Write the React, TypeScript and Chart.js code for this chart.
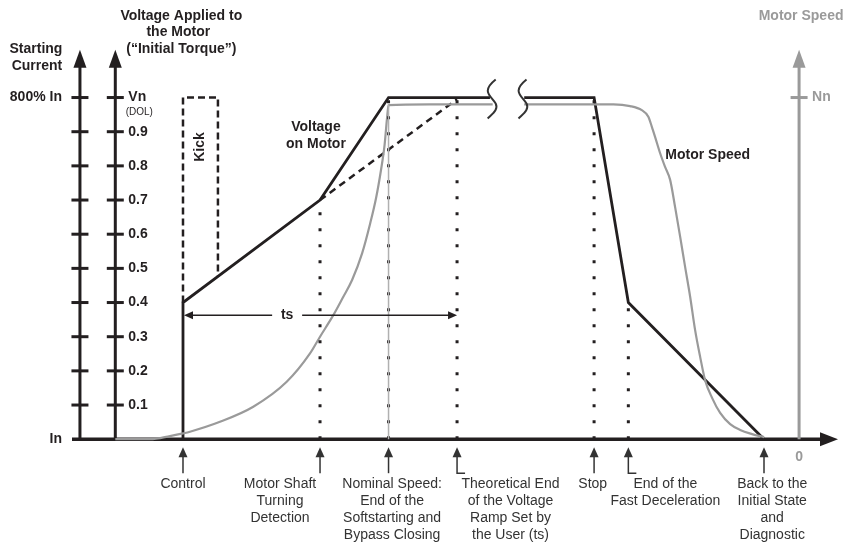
import React, { useEffect, useRef } from "react";
import { Chart, registerables } from "chart.js";

Chart.register(...registerables);

// ---- data (time in arbitrary units, voltage/speed as fraction of Vn / Nn) ----
const voltageRampT = [0, 0, 10, 15, 22.4];
const voltageRampV = [0, 0.4, 0.7, 1, 1];
const voltageStopT = [24.9, 30, 32.5, 42.4];
const voltageStopV = [1, 1, 0.4, 0];
const theoreticalRampT = [10, 20];
const theoreticalRampV = [0.7, 0.995];
const kickT = [0, 0, 2.55, 2.55];
const kickV = [0.4, 1, 1, 0.477];

const speedStartT = [-4.94, -2.41, -0.95, 0, 0.51, 2.7, 5.13, 7.57, 9.27, 10, 10.97, 11.7, 12.34, 13.07, 13.65, 14.09, 14.45, 14.71, 14.89, 15.0, 18, 22.6];
const speedStartV = [0, 0, 0.009, 0.017, 0.022, 0.051, 0.095, 0.168, 0.251, 0.3, 0.363, 0.417, 0.466, 0.544, 0.63, 0.706, 0.788, 0.861, 0.94, 0.978, 0.98, 0.98];
const speedStopT = [24.9, 28, 31.41, 32.63, 33.48, 33.96, 34.21, 34.45, 34.82, 35.18, 35.55, 35.91, 36.28, 36.64, 37.01, 37.37, 37.74, 38.1, 38.61, 39.2, 39.93, 40.66, 41.53, 42.41];
const speedStopV = [0.98, 0.98, 0.98, 0.975, 0.963, 0.944, 0.915, 0.885, 0.837, 0.797, 0.759, 0.68, 0.593, 0.505, 0.417, 0.32, 0.241, 0.173, 0.121, 0.077, 0.044, 0.027, 0.015, 0.006];

const nominalLineT = [15, 15];
const nominalLineV = [0, 0.98];

const markerT = [10, 15, 20, 30, 32.5];
const markerTop = [0.7, 1, 0.995, 1, 0.4];

const tickValues = [0.1, 0.2, 0.3, 0.4, 0.5, 0.6, 0.7, 0.8, 0.9];
const tickLabels = ["0.1", "0.2", "0.3", "0.4", "0.5", "0.6", "0.7", "0.8", "0.9"];

const eventT = [0, 10, 15, 20, 30, 32.5, 42.4];
const eventLabelT = [0, 7.08, 15.26, 23.9, 29.9, 35.2, 43.0];
const eventHook = [false, false, false, true, false, true, false];
const eventLabels = [
  ["Control"],
  ["Motor Shaft", "Turning", "Detection"],
  ["Nominal Speed:", "End of the", "Softstarting and", "Bypass Closing"],
  ["Theoretical End", "of the Voltage", "Ramp Set by", "the User (ts)"],
  ["Stop"],
  ["End of the", "Fast Deceleration"],
  ["Back to the", "Initial State", "and", "Diagnostic"],
];

const X_MIN = -8.1;
const X_MAX = 47.8;
const Y_MAX = 1.14;
const AXIS_CURRENT_T = -7.52;
const AXIS_VOLTAGE_T = -4.94;
const AXIS_SPEED_T = 44.96;
const BREAK_T = [22.6, 24.85];
const TS_V = 0.363;
const TS_TEXT_T = 7.6;

const BLACK = "#231f20";
const GRAY = "#9a9a9a";
const TEXT_GRAY = "#333333";
const FONT = '"Liberation Sans", Arial, sans-serif';

const pts = (t: number[], v: number[]) => t.map((x, i) => ({ x, y: v[i] }));

const decorPlugin = {
  id: "decor",
  beforeDatasetsDraw(chart: any) {
    const ctx = chart.ctx as CanvasRenderingContext2D;
    const xs = chart.scales.x;
    const ys = chart.scales.y;
    const px = (t: number) => xs.getPixelForValue(t);
    const py = (v: number) => ys.getPixelForValue(v);
    ctx.save();
    ctx.lineCap = "butt";
    // x axis
    const y0 = py(0);
    ctx.strokeStyle = BLACK;
    ctx.fillStyle = BLACK;
    ctx.lineWidth = 3.5;
    ctx.beginPath();
    ctx.moveTo(px(X_MIN), y0);
    ctx.lineTo(px(X_MAX) - 12, y0);
    ctx.stroke();
    ctx.beginPath();
    ctx.moveTo(px(X_MAX), y0);
    ctx.lineTo(px(X_MAX) - 18, y0 - 7);
    ctx.lineTo(px(X_MAX) - 18, y0 + 7);
    ctx.closePath();
    ctx.fill();

    const drawVAxis = (t: number, color: string, ticks: number[]) => {
      const x = px(t);
      ctx.strokeStyle = color;
      ctx.fillStyle = color;
      ctx.lineWidth = 3;
      ctx.beginPath();
      ctx.moveTo(x, y0);
      ctx.lineTo(x, py(Y_MAX) + 12);
      ctx.stroke();
      ctx.beginPath();
      ctx.moveTo(x, py(Y_MAX));
      ctx.lineTo(x - 6.5, py(Y_MAX) + 18);
      ctx.lineTo(x + 6.5, py(Y_MAX) + 18);
      ctx.closePath();
      ctx.fill();
      ticks.forEach((v) => {
        ctx.beginPath();
        ctx.moveTo(x - 8.5, py(v));
        ctx.lineTo(x + 8.5, py(v));
        ctx.stroke();
      });
    };
    drawVAxis(AXIS_CURRENT_T, BLACK, [...tickValues, 1]);
    drawVAxis(AXIS_VOLTAGE_T, BLACK, [...tickValues, 1]);
    drawVAxis(AXIS_SPEED_T, GRAY, [1]);
    ctx.restore();
  },
  afterDatasetsDraw(chart: any) {
    const ctx = chart.ctx as CanvasRenderingContext2D;
    const xs = chart.scales.x;
    const ys = chart.scales.y;
    const px = (t: number) => xs.getPixelForValue(t);
    const py = (v: number) => ys.getPixelForValue(v);
    const y0 = py(0);
    const bold = `bold 14px ${FONT}`;
    const reg = `14px ${FONT}`;
    ctx.save();
    ctx.textBaseline = "middle";

    // break marks
    ctx.strokeStyle = "#333";
    ctx.lineWidth = 2;
    BREAK_T.forEach((t) => {
      const x = px(t);
      const top = py(1) - 18;
      ctx.beginPath();
      ctx.moveTo(x + 3, top);
      ctx.bezierCurveTo(x - 12, top + 12, x - 2, top + 16, x + 3, top + 24);
      ctx.bezierCurveTo(x + 6, top + 30, x, top + 34, x - 5, top + 39);
      ctx.stroke();
    });

    // left axis labels
    const xA1 = px(AXIS_CURRENT_T);
    const xA2 = px(AXIS_VOLTAGE_T);
    const xA3 = px(AXIS_SPEED_T);
    ctx.fillStyle = BLACK;
    ctx.font = bold;
    ctx.textAlign = "center";
    ctx.fillText("Starting", xA1 - 44, 49);
    ctx.fillText("Current", xA1 - 43, 66);
    ctx.fillText("Voltage Applied to", xA2 + 66, 16);
    ctx.fillText("the Motor", xA2 + 63, 32);
    ctx.fillText("(\u201cInitial Torque\u201d)", xA2 + 66, 49);
    ctx.textAlign = "right";
    ctx.fillText("800% In", xA1 - 18, py(1));
    ctx.fillText("In", xA1 - 18, y0);
    ctx.textAlign = "left";
    tickValues.forEach((v, i) => ctx.fillText(tickLabels[i], xA2 + 13, py(v)));
    ctx.fillText("Vn", xA2 + 13, py(1));
    ctx.font = `10px ${FONT}`;
    ctx.textAlign = "center";
    ctx.fillText("(DOL)", xA2 + 24, py(1) + 15);

    // right axis labels
    ctx.fillStyle = GRAY;
    ctx.font = bold;
    ctx.textAlign = "center";
    ctx.fillText("Motor Speed", xA3 + 2, 16);
    ctx.fillText("0", xA3, y0 + 18);
    ctx.textAlign = "left";
    ctx.fillText("Nn", xA3 + 13, py(1));

    // in-plot labels
    ctx.fillStyle = BLACK;
    ctx.textAlign = "center";
    ctx.fillText("Voltage", px(9.7), py(0.912));
    ctx.fillText("on Motor", px(9.7), py(0.865));
    ctx.textAlign = "left";
    ctx.fillText("Motor Speed", px(35.2), py(0.832));
    ctx.save();
    ctx.translate(px(1.27), py(0.855));
    ctx.rotate(-Math.PI / 2);
    ctx.textAlign = "center";
    ctx.fillText("Kick", 0, 0);
    ctx.restore();

    // ts arrow
    const yts = py(TS_V);
    const xs0 = px(0);
    const xs1 = px(20);
    const xt = px(TS_TEXT_T);
    ctx.strokeStyle = BLACK;
    ctx.lineWidth = 1.5;
    ctx.beginPath();
    ctx.moveTo(xs0 + 6, yts);
    ctx.lineTo(xt - 15, yts);
    ctx.moveTo(xt + 15, yts);
    ctx.lineTo(xs1 - 6, yts);
    ctx.stroke();
    ctx.beginPath();
    ctx.moveTo(xs0 + 1, yts);
    ctx.lineTo(xs0 + 10, yts - 4);
    ctx.lineTo(xs0 + 10, yts + 4);
    ctx.closePath();
    ctx.moveTo(xs1, yts);
    ctx.lineTo(xs1 - 9, yts - 4);
    ctx.lineTo(xs1 - 9, yts + 4);
    ctx.closePath();
    ctx.fill();
    ctx.textAlign = "center";
    ctx.fillText("ts", xt, yts);

    // bottom event arrows and labels
    ctx.strokeStyle = TEXT_GRAY;
    ctx.fillStyle = TEXT_GRAY;
    ctx.lineWidth = 1.5;
    eventT.forEach((t, i) => {
      const x = px(t);
      const tip = y0 + 8;
      const end = y0 + 34;
      ctx.beginPath();
      ctx.moveTo(x, tip + 6);
      ctx.lineTo(x, end);
      if (eventHook[i]) ctx.lineTo(x + 8, end);
      ctx.stroke();
      ctx.beginPath();
      ctx.moveTo(x, tip);
      ctx.lineTo(x - 4.5, tip + 10);
      ctx.lineTo(x + 4.5, tip + 10);
      ctx.closePath();
      ctx.fill();
      ctx.font = reg;
      ctx.textAlign = "center";
      eventLabels[i].forEach((line, j) => {
        ctx.fillText(line, px(eventLabelT[i]), y0 + 45 + j * 17);
      });
    });
    ctx.restore();
  },
};

export default function App() {
  const canvasRef = useRef<HTMLCanvasElement | null>(null);

  useEffect(() => {
    if (!canvasRef.current) return;
    const solid = (data: any[], color: string, width: number, extra: any = {}) => ({
      data,
      borderColor: color,
      borderWidth: width,
      pointRadius: 0,
      fill: false,
      tension: 0,
      clip: false,
      ...extra,
    });
    const datasets: any[] = [
      solid(pts(nominalLineT, nominalLineV), "#b0b0b0", 1.5),
      ...markerT.map((t, i) =>
        solid(pts([t, t], [0, markerTop[i]]), BLACK, 3, { borderDash: [3, 13] })
      ),
      solid(pts(speedStartT, speedStartV), GRAY, 2.2, { cubicInterpolationMode: "monotone" }),
      solid(pts(speedStopT, speedStopV), GRAY, 2.2, { cubicInterpolationMode: "monotone" }),
      solid(pts(theoreticalRampT, theoreticalRampV), BLACK, 2.5, { borderDash: [7, 5] }),
      solid(pts(kickT, kickV), BLACK, 2.5, { borderDash: [7, 4] }),
      solid(pts(voltageRampT, voltageRampV), BLACK, 2.8),
      solid(pts(voltageStopT, voltageStopV), BLACK, 2.8),
    ];
    const chart = new Chart(canvasRef.current, {
      type: "line",
      data: { datasets },
      options: {
        animation: false,
        responsive: false,
        devicePixelRatio: 1,
        layout: { padding: { left: 72, right: 14, top: 49.7, bottom: 102.8 } },
        plugins: { legend: { display: false }, tooltip: { enabled: false } },
        events: [],
        scales: {
          x: { type: "linear", min: X_MIN, max: X_MAX, display: false },
          y: { type: "linear", min: 0, max: Y_MAX, display: false },
        },
      },
      plugins: [decorPlugin],
    } as any);
    return () => chart.destroy();
  }, []);

  return (
    <div style={{ position: "fixed", left: 0, top: 0, width: 852, height: 542, background: "#fff" }}>
      <canvas ref={canvasRef} width={852} height={542} />
    </div>
  );
}
